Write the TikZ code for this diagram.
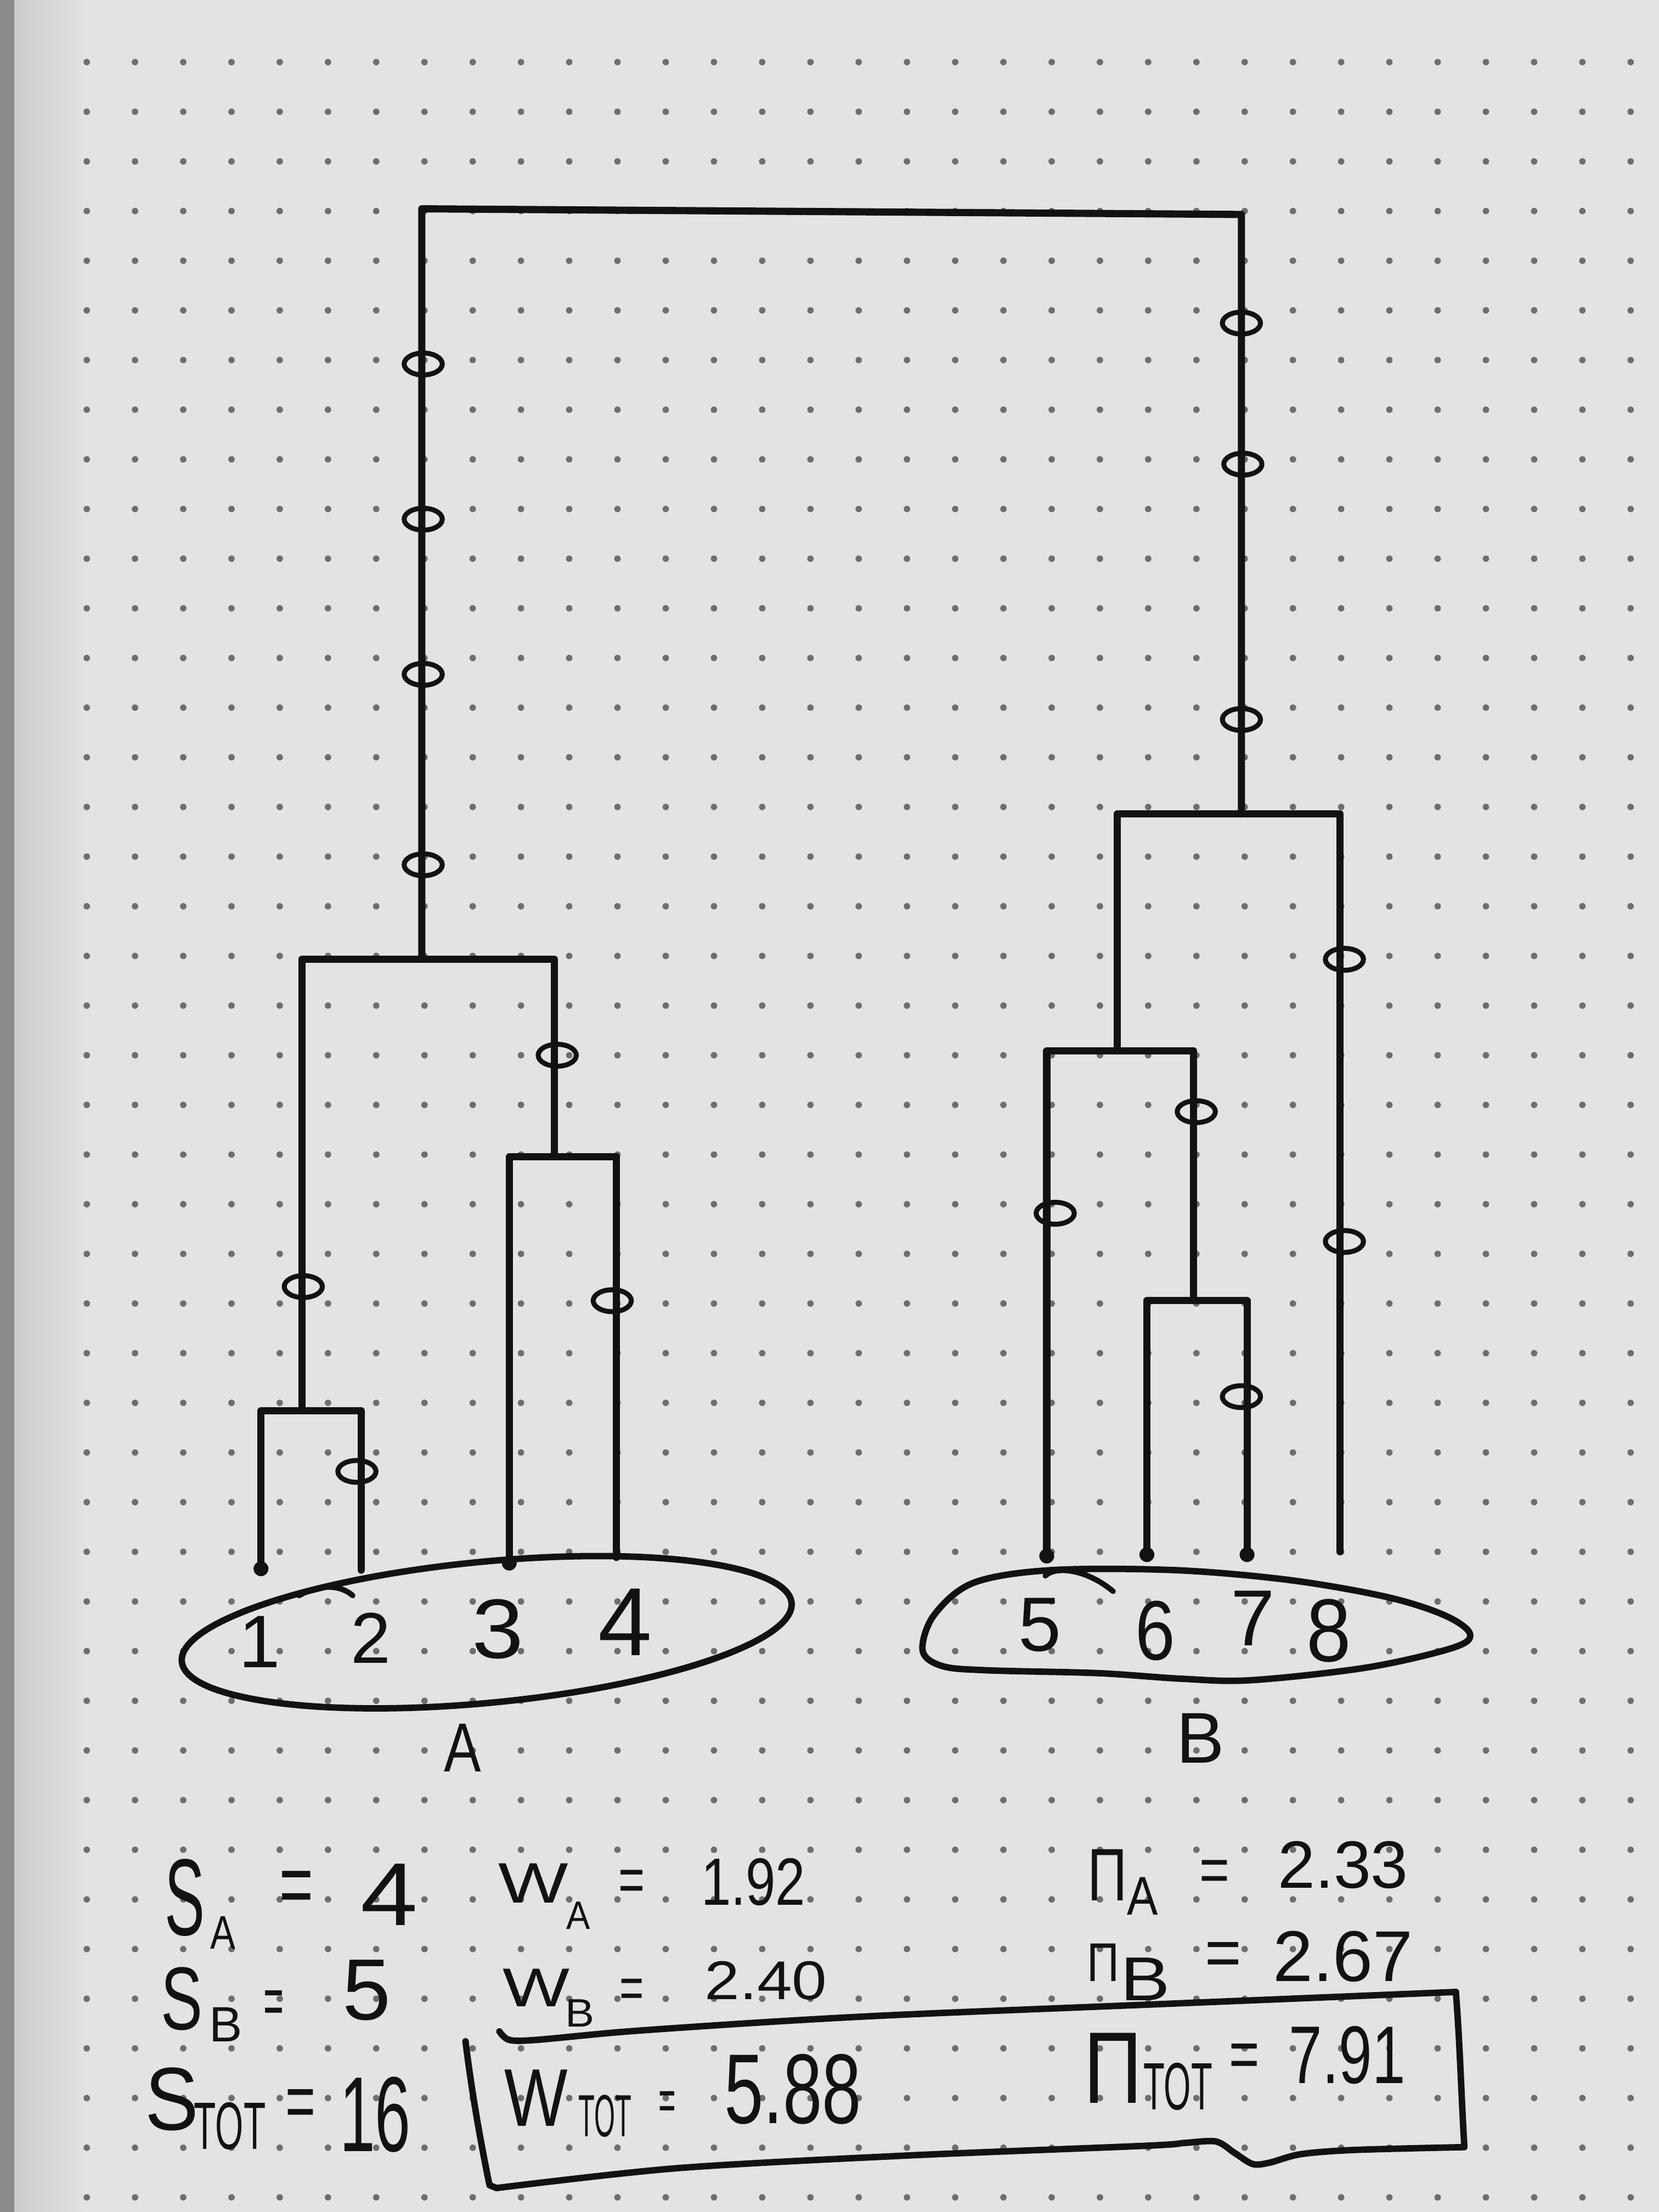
\documentclass[tikz,border=0pt]{standalone}
\usepackage{fontspec}
\setmainfont{Liberation Sans}
\usepackage{graphicx}
\usetikzlibrary{shapes.geometric}
\definecolor{paper}{RGB}{227,227,227}
\definecolor{band}{RGB}{203,203,203}
\definecolor{edge}{RGB}{140,140,140}
\definecolor{dotc}{RGB}{110,110,110}
\definecolor{ink}{RGB}{18,18,18}
\newcommand{\hw}[3]{{\fontsize{#1}{#1}\selectfont\scalebox{#2}[1]{#3}}}
\begin{document}
\begin{tikzpicture}[x=0.01cm,y=-0.01cm,
  br/.style={draw=ink,line width=1.45pt,line cap=round,line join=round},
  pen/.style={draw=ink,line width=1.3pt,line cap=round,line join=round},
  cutmark/.style={draw=ink,line width=1pt,ellipse,minimum width=0.27cm,minimum height=0.155cm,inner sep=0pt},
  lbl/.style={inner sep=0pt,text=ink}]
\useasboundingbox (0,0) rectangle (1176,1568);
% paper
\fill[paper] (0,0) rectangle (1176,1568);
\shade[left color=band,right color=paper] (10,0) rectangle (62,1568);
\fill[edge] (0,0) rectangle (10,1568);
\foreach \i in {0,...,32}{
  \foreach \j in {0,...,43}{
    \fill[dotc] ({61.5+34.2*\i},{44+35.2*\j}) circle (0.65pt);
  }
}
% ---- coordinates of the tree
\coordinate (RL) at (299,148);
\coordinate (RR) at (880,152);
\coordinate (Aj) at (299,680);
\coordinate (A12) at (214,1000);
\coordinate (A34) at (393,820);
\coordinate (L1) at (185,1112);
\coordinate (L2) at (256,1113);
\coordinate (L3) at (361,1108);
\coordinate (L4) at (437,1104);
\coordinate (Bj) at (880,577);
\coordinate (B567) at (792,745);
\coordinate (B67) at (846,922);
\coordinate (L5) at (742,1103);
\coordinate (L6) at (813,1102);
\coordinate (L7) at (884,1102);
\coordinate (L8) at (950,1100);
% ---- branches
\draw[br] (Aj) -- (RL) -- (RR) -- (Bj);
\draw[br] (A12) -- (A12 |- Aj) -- (A34 |- Aj) -- (A34);
\draw[br] (L1) -- (L1 |- A12) -- (L2 |- A12) -- (L2);
\draw[br] (L3) -- (L3 |- A34) -- (L4 |- A34) -- (L4);
\draw[br] (B567) -- (B567 |- Bj) -- (L8 |- Bj) -- (L8);
\draw[br] (L5) -- (L5 |- B567) -- (B67 |- B567) -- (B67);
\draw[br] (L6) -- (L6 |- B67) -- (L7 |- B67) -- (L7);
\foreach \p in {L1,L3,L5,L6,L7} \fill[ink] (\p) circle (1.5pt);
% ---- marks on branches
\node[cutmark] (m1) at (300,258) {};
\node[cutmark] (m2) at (300,368) {};
\node[cutmark] (m3) at (300,478) {};
\node[cutmark] (m4) at (300,613) {};
\node[cutmark] (m5) at (880,229) {};
\node[cutmark] (m6) at (881,329) {};
\node[cutmark] (m7) at (880,510) {};
\node[cutmark] (m8) at (395,748) {};
\node[cutmark] (m9) at (215,912) {};
\node[cutmark] (m10) at (253,1043) {};
\node[cutmark] (m11) at (434,922) {};
\node[cutmark] (m12) at (953,680) {};
\node[cutmark] (m13) at (953,880) {};
\node[cutmark] (m14) at (748,860) {};
\node[cutmark] (m15) at (848,788) {};
\node[cutmark] (m16) at (880,990) {};
% ---- group A
\node[draw=ink,line width=1.3pt,ellipse,minimum width=4.34cm,minimum height=1cm,rotate=5.5,inner sep=0pt] (grpA) at (345,1157) {};
\draw[pen,line width=1.1pt] (212,1131) .. controls (226,1123) and (241,1123) .. (250,1131);
\node[lbl] (t1) at (184,1164) {\hw{15}{1}{1}};
\node[lbl] (t2) at (263,1161) {\hw{14.5}{1}{2}};
\node[lbl] (t3) at (353,1155) {\hw{17}{1.1}{3}};
\node[lbl] (t4) at (443,1150) {\hw{19.5}{1}{4}};
\node[lbl] (tA) at (328,1239) {\hw{14}{0.8}{A}};
% ---- group B
\draw[pen] plot[smooth cycle, tension=0.55] coordinates {(654,1170) (668,1181) (700,1184) (778,1186) (838,1190) (887,1191) (969,1182) (1030,1168) (1042,1158) (1024,1145) (983,1132) (914,1120) (833,1113) (745,1113) (690,1122) (662,1145)};
\draw[pen,line width=1.1pt] (741,1117) .. controls (748,1110) and (770,1112) .. (789,1128);
\node[lbl] (t5) at (737,1152) {\hw{15.5}{1}{5}};
\node[lbl] (t6) at (819,1156) {\hw{17}{0.85}{6}};
\node[lbl] (t7) at (888,1147) {\hw{16}{1}{7}};
\node[lbl] (t8) at (942,1156) {\hw{18}{0.9}{8}};
\node[lbl] (tB) at (851,1232) {\hw{14.5}{1}{B}};
% ---- S column
\node[lbl] (sA1) at (131,1345) {\hw{22}{0.55}{S}};
\node[lbl] (sA2) at (158,1370) {\hw{9.5}{0.8}{A}};
\node[lbl] (sA3) at (210,1342) {\hw{18}{0.65}{=}};
\node[lbl] (sA4) at (276,1343) {\hw{18}{1.15}{4}};
\node[lbl] (sB1) at (129,1417) {\hw{18}{0.7}{S}};
\node[lbl] (sB2) at (160,1435) {\hw{10}{1}{B}};
\node[lbl] (sB3) at (194,1423) {\hw{14}{0.5}{=}};
\node[lbl] (sB4) at (260,1411) {\hw{17.5}{1}{5}};
\node[lbl] (sT1) at (122,1488) {\hw{18}{0.9}{S}};
\node[lbl] (sT2) at (163,1507) {\hw{13.5}{0.54}{TOT}};
\node[lbl] (sT3) at (213,1495) {\hw{16}{0.65}{=}};
\node[lbl] (sT4) at (266,1499) {\hw{21.5}{0.6}{16}};
% ---- W column
\node[lbl] (wA1) at (378,1335) {\hw{11.5}{1.3}{W}};
\node[lbl] (wA2) at (410,1358) {\hw{8}{0.9}{A}};
\node[lbl] (wA3) at (448,1337) {\hw{13}{0.7}{=}};
\node[lbl] (wA4) at (534,1334) {\hw{13.5}{0.8}{1.92}};
\node[lbl] (wB1) at (380,1409) {\hw{11}{1.3}{W}};
\node[lbl] (wB2) at (411,1427) {\hw{8}{1.1}{B}};
\node[lbl] (wB3) at (448,1413) {\hw{12}{0.7}{=}};
\node[lbl] (wB4) at (543,1404) {\hw{11}{1.15}{2.40}};
\node[lbl] (wT1) at (380,1487) {\hw{16.5}{0.82}{W}};
\node[lbl] (wT2) at (429,1500) {\hw{12}{0.45}{TOT}};
\node[lbl] (wT3) at (473,1493) {\hw{12}{0.5}{=}};
\node[lbl] (wT4) at (562,1481) {\hw{20}{0.71}{5.88}};
% ---- Pi column
\node[lbl] (pA1) at (785,1329) {\hw{15}{0.74}{Π}};
\node[lbl] (pA2) at (810,1344) {\hw{11}{0.85}{A}};
\node[lbl] (pA3) at (861,1330) {\hw{13}{0.8}{=}};
\node[lbl] (pA4) at (952,1322) {\hw{13.5}{1}{2.33}};
\node[lbl] (pB1) at (782,1391) {\hw{11}{0.82}{Π}};
\node[lbl] (pB2) at (812,1403) {\hw{12.5}{1.2}{B}};
\node[lbl] (pB3) at (867,1389) {\hw{14}{0.9}{=}};
\node[lbl] (pB4) at (952,1387) {\hw{14.5}{1}{2.67}};
\node[lbl] (pT1) at (789,1466) {\hw{20.5}{0.8}{Π}};
\node[lbl] (pT2) at (835,1479) {\hw{13.5}{0.52}{TOT}};
\node[lbl] (pT3) at (882,1461) {\hw{14}{0.75}{=}};
\node[lbl] (pT4) at (955,1457) {\hw{16.5}{0.73}{7.91}};
% ---- box around totals
\draw[pen] plot[smooth, tension=0.5] coordinates {(354,1440) (361,1446) (380,1446) (445,1440) (549,1433) (642,1428) (813,1421) (1032,1412)};
\draw[pen] (1032,1412) .. controls (1035,1450) and (1036,1490) .. (1038,1521);
\draw[pen] plot[smooth, tension=0.5] coordinates {(1038,1522) (960,1524) (922,1527) (900,1533) (888,1534) (875,1526) (862,1518) (840,1519) (813,1521) (642,1528) (479,1537) (352,1551)};
\draw[pen] (352,1551) -- (347,1549) .. controls (340,1515) and (334,1480) .. (330,1447);
\end{tikzpicture}
\end{document}
